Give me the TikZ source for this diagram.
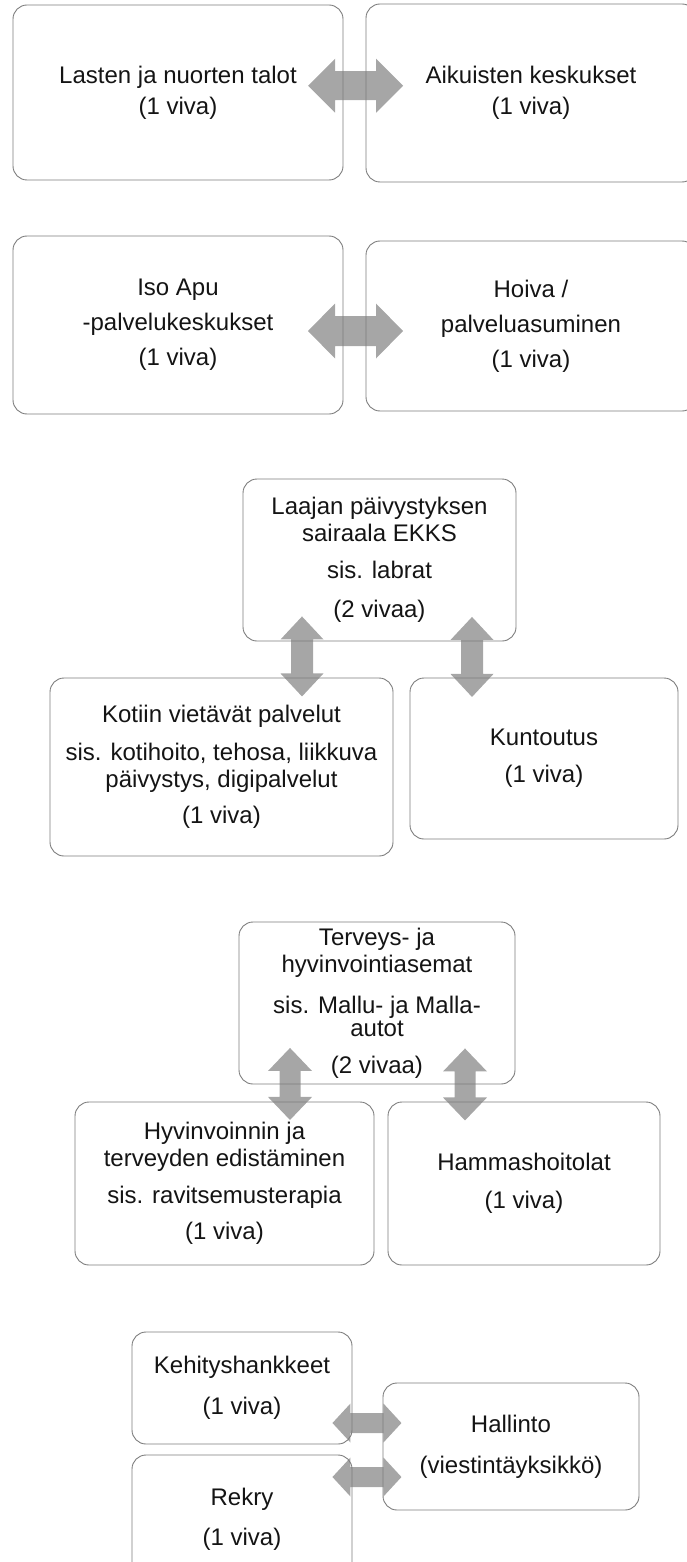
\documentclass[tikz,border=0pt]{standalone}
\usepackage{fontspec}
\setmainfont{Liberation Sans}
\usetikzlibrary{calc}
\pgfdeclarelayer{bg}
\pgfsetlayers{bg,main}
\definecolor{boxline}{RGB}{125,125,125}
\definecolor{arrowgray}{RGB}{166,166,166}
\definecolor{txt}{RGB}{20,20,20}
\tikzset{
  box/.style={rectangle, draw=boxline, line width=0.9pt, rounded corners=14pt,
    inner sep=0pt, align=center, text=txt, font=\fontsize{24}{27}\selectfont},
  pics/dbl/.style n args={4}{code={
    \fill[arrowgray] (-#1,0) -- ({-#1+#2},#3) -- ({-#1+#2},#4) -- ({#1-#2},#4)
      -- ({#1-#2},#3) -- (#1,0) -- ({#1-#2},-#3) -- ({#1-#2},-#4)
      -- ({-#1+#2},-#4) -- ({-#1+#2},-#3) -- cycle;}}
}
\begin{document}
\begin{tikzpicture}[x=1pt,y=1pt]
\useasboundingbox (0,0) rectangle (687,-1562);
\clip (0,0) rectangle (687,-1562);

% Section 1
\node[box, minimum width=330pt, minimum height=175pt] (A) at (178,-92.5)
  {Lasten ja nuorten talot\\[4pt](1 viva)};
\node[box, minimum width=330pt, minimum height=178pt] (B) at (531,-93)
  {Aikuisten keskukset\\[4pt](1 viva)};

% Section 2
\node[box, minimum width=330pt, minimum height=178pt] (C) at (178,-325)
  {Iso Apu\\[8pt]-palvelukeskukset\\[8pt](1 viva)};
\node[box, minimum width=330pt, minimum height=170pt] (D) at (531,-326)
  {Hoiva /\\[8pt]palveluasuminen\\[8pt](1 viva)};

% Section 3
\node[box, minimum width=273pt, minimum height=162pt] (T3) at (379.5,-560)
  {Laajan päivystyksen\\sairaala EKKS\\[10pt]sis. labrat\\[12pt](2 vivaa)};
\node[box, minimum width=343pt, minimum height=178pt] (L3) at (221.5,-767)
  {Kotiin vietävät palvelut\\[11pt]sis. kotihoito, tehosa, liikkuva\\päivystys, digipalvelut\\[9pt](1 viva)};
\node[box, minimum width=268pt, minimum height=161pt] (R3) at (544,-758.5)
  {Kuntoutus\\[10pt](1 viva)};

% Section 4
\node[box, minimum width=276pt, minimum height=162pt] (T4) at (377,-1003)
  {Terveys- ja\\hyvinvointiasemat\\[14pt]sis. Mallu- ja Malla-\\[-4pt]autot\\[10pt](2 vivaa)};
\node[box, minimum width=299pt, minimum height=163pt] (L4) at (224.5,-1183.5)
  {Hyvinvoinnin ja\\terveyden edistäminen\\[10pt]sis. ravitsemusterapia\\[9pt](1 viva)};
\node[box, minimum width=272pt, minimum height=163pt] (R4) at (524,-1183.5)
  {Hammashoitolat\\[11pt](1 viva)};

% Section 5
\node[box, minimum width=220pt, minimum height=112pt] (K) at (242,-1388)
  {Kehityshankkeet\\[14pt](1 viva)};
\node[box, minimum width=220pt, minimum height=128pt] (Rk) at (242,-1519)
  {Rekry\\[13pt](1 viva)};
\node[box, minimum width=256pt, minimum height=127pt] (H) at (511,-1446.5)
  {Hallinto\\[14pt](viestintäyksikkö)};

% Double arrows (behind the box borders)
\begin{pgfonlayer}{bg}
  \pic at ($(A.east)!0.5!(B.west)+(1,7)$) {dbl={47.5}{27}{27}{14.5}};
  \pic at ($(C.east)!0.5!(D.west)+(1,-5.5)$) {dbl={47.5}{27}{27.5}{15}};
  \pic[rotate=90] at ($(T3.south)+(-77.5,-15)$) {dbl={40}{23}{21.5}{11}};
  \pic[rotate=90] at ($(T3.south)+(92.5,-15.5)$) {dbl={40}{23}{21.5}{11}};
  \pic[rotate=90] at ($(T4.south)+(-87,0.5)$) {dbl={36}{23}{22}{10.5}};
  \pic[rotate=90] at ($(T4.south)+(88,0)$) {dbl={36}{23}{22}{10.5}};
  \pic at ($(K.east)+(14.5,-35)$) {dbl={34.5}{18}{19.5}{10}};
  \pic at ($(Rk.east)+(14.5,42)$) {dbl={34.5}{18}{19.5}{10}};
\end{pgfonlayer}
\end{tikzpicture}
\end{document}
